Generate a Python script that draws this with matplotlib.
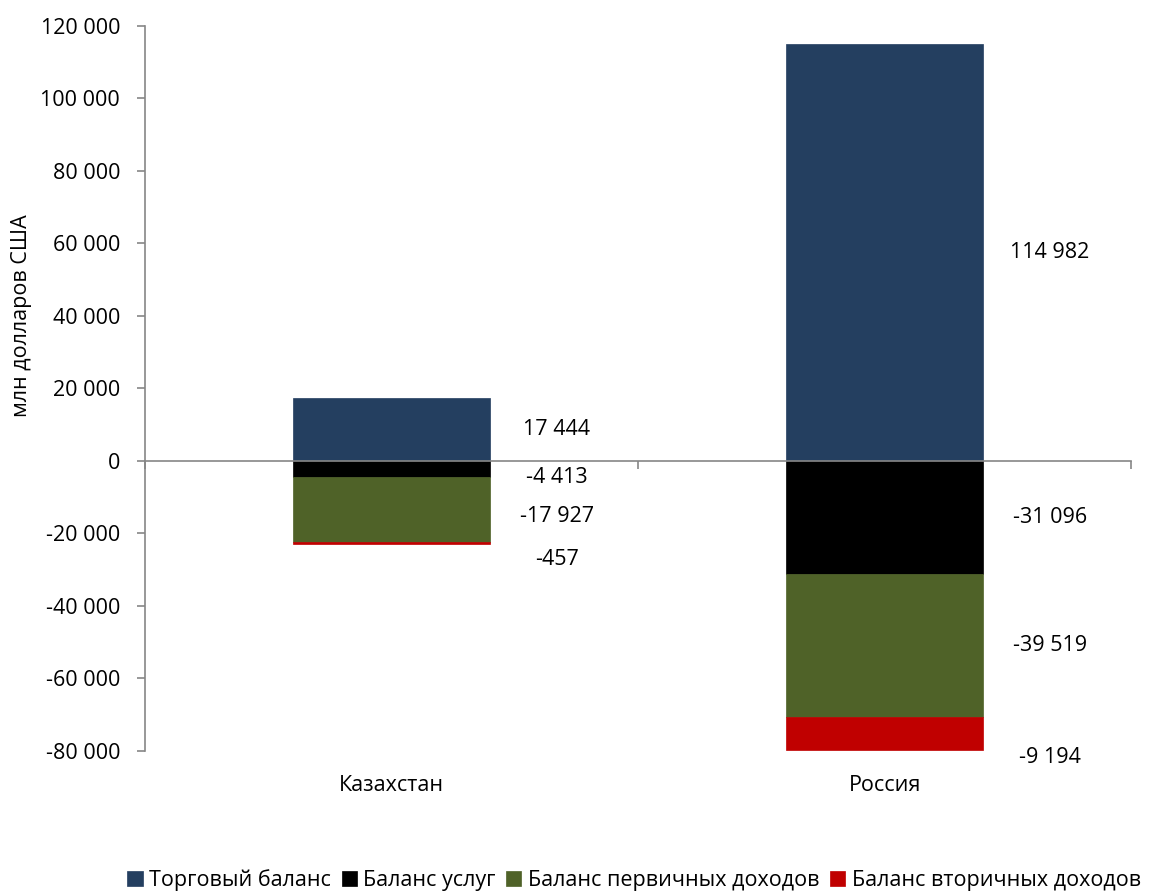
import numpy as np
import matplotlib
matplotlib.use('Agg')
import matplotlib.pyplot as plt
from matplotlib.ticker import FuncFormatter

plt.rcParams['font.family'] = ['Open Sans', 'DejaVu Sans']

countries = ['Казахстан', 'Россия']
series_names = ['Торговый баланс', 'Баланс услуг', 'Баланс первичных доходов', 'Баланс вторичных доходов']
trade = [17444, 114982]
services = [-4413, -31096]
primary = [-17927, -39519]
secondary = [-457, -9194]

colors = ['#243F60', '#000000', '#4F6228', '#C00000']
# label nudges in pixels (to keep labels from overlapping), per series / per country
nudges = [[0, 0], [-9, 0], [-7, 0], [-17, -24]]
fs = 15.5

fig = plt.figure(figsize=(11.53, 8.94), dpi=100)
ax = fig.add_axes([0.1258, 0.160, 0.8552, 0.811])

x = np.arange(len(countries))
w = 0.4
pos_base = np.zeros(len(countries))
neg_base = np.zeros(len(countries))
for k, vals in enumerate([trade, services, primary, secondary]):
    vals = np.array(vals, dtype=float)
    bottoms = np.where(vals >= 0, pos_base, neg_base)
    ax.bar(x, vals, w, bottom=bottoms, color=colors[k], label=series_names[k],
           edgecolor=colors[k], linewidth=0.5, zorder=2)
    for i in range(len(countries)):
        mid = bottoms[i] + vals[i] / 2
        txt = '{:,.0f}'.format(vals[i]).replace(',', ' ')
        ax.annotate(txt, (x[i] + 0.335, mid), xytext=(0, nudges[k][i] * 0.72),
                    textcoords='offset points', ha='center', va='center',
                    fontsize=fs, color='black')
    pos_base = pos_base + np.where(vals >= 0, vals, 0)
    neg_base = neg_base + np.where(vals < 0, vals, 0)

ax.set_xlim(-0.5, len(countries) - 0.5)
ax.set_ylim(-80000, 120000)
ax.set_yticks(np.arange(-80000, 120001, 20000))
ax.yaxis.set_major_formatter(FuncFormatter(lambda v, p: '{:,.0f}'.format(v).replace(',', ' ')))
ax.tick_params(axis='y', labelsize=fs, length=6, color='#868686', width=1.2, pad=12)

for s in ['top', 'right']:
    ax.spines[s].set_visible(False)
ax.spines['left'].set_color('#868686')
ax.spines['left'].set_linewidth(1.2)
ax.spines['bottom'].set_position(('data', 0))
ax.spines['bottom'].set_color('#868686')
ax.spines['bottom'].set_linewidth(1.2)
ax.spines['bottom'].set_zorder(3)
ax.set_xticks(np.arange(-0.5, len(countries), 1.0))
ax.set_xticklabels([])
ax.tick_params(axis='x', length=6, color='#868686', width=1.2)

for i, c in enumerate(countries):
    ax.text(x[i], -0.048, c, transform=ax.get_xaxis_transform(), ha='center', va='center', fontsize=fs)

ax.set_ylabel('млн долларов США', fontsize=fs)
ax.yaxis.set_label_coords(-0.115, 0.60)

fig.legend(loc='lower center', bbox_to_anchor=(0.55, -0.018), ncol=4, frameon=False, fontsize=fs,
           handlelength=0.7, handleheight=0.7, handletextpad=0.3, columnspacing=0.5)

fig.savefig('out.png', dpi=100)
